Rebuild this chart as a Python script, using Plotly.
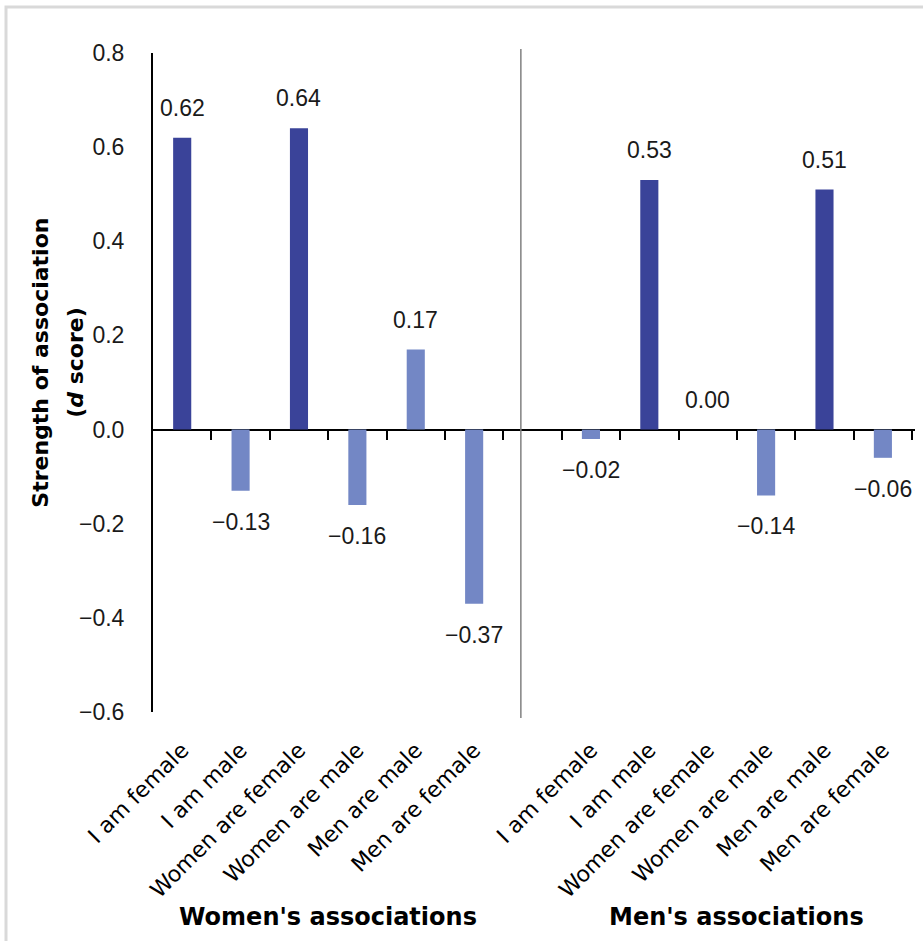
import plotly.graph_objects as go

# ---- data ----
categories = ["I am female", "I am male", "Women are female",
              "Women are male", "Men are male", "Men are female"]
women_values = [0.62, -0.13, 0.64, -0.16, 0.17, -0.37]
men_values = [-0.02, 0.53, 0.00, -0.14, 0.51, -0.06]
women_congruent = ["I am female", "Women are female"]
men_congruent = ["I am male", "Men are male"]
group_titles = ["Women's associations", "Men's associations"]
y_ticks = [-0.6, -0.4, -0.2, 0.0, 0.2, 0.4, 0.6, 0.8]

DARK = "#3a4399"
LIGHT = "#7387c5"
NUM_FONT = "Liberation Sans"
TXT_FONT = "DejaVu Sans"

n = len(categories)
women_x = list(range(n))
men_x = [n + 1 + i for i in range(n)]
all_x = women_x + men_x
all_vals = women_values + men_values
all_cols = [DARK if c in women_congruent else LIGHT for c in categories] + \
           [DARK if c in men_congruent else LIGHT for c in categories]

fig = go.Figure()
fig.add_trace(go.Bar(x=all_x, y=all_vals, marker=dict(color=all_cols, line=dict(width=0)),
                     width=0.31, hoverinfo="skip", showlegend=False))
# helper invisible trace on the zero-positioned tick axis
fig.add_trace(go.Scatter(x=[all_x[0]], y=[0], xaxis="x2", mode="markers",
                         marker=dict(opacity=0), hoverinfo="skip", showlegend=False))

# data labels
for x, v in zip(all_x, all_vals):
    fig.add_annotation(x=x, y=v, text=f"{v:.2f}".replace("-", "\u2212"), showarrow=False,
                       yanchor="bottom" if v >= 0 else "top",
                       yshift=15 if v >= 0 else -16,
                       font=dict(family=NUM_FONT, size=23, color="#1a1a1a"))

# group titles
for title, xs in zip(group_titles, [women_x, men_x]):
    fig.add_annotation(x=(xs[0] + xs[-1]) / 2, y=-0.311, xref="x", yref="paper",
                       text=f"<b>{title}</b>", showarrow=False, yanchor="middle",
                       font=dict(family=TXT_FONT, size=24, color="#000000"))

# y axis title (two lines)
fig.add_annotation(x=-0.147, y=0.53, xref="paper", yref="paper", textangle=-90,
                   text="<b>Strength of association</b>", showarrow=False,
                   xanchor="center", yanchor="middle",
                   font=dict(family=TXT_FONT, size=22, color="#000000"))
fig.add_annotation(x=-0.101, y=0.53, xref="paper", yref="paper", textangle=-90,
                   text="<b>(<i>d</i> score)</b>", showarrow=False,
                   xanchor="center", yanchor="middle",
                   font=dict(family=TXT_FONT, size=22, color="#000000"))

x_range = [-0.5, 2 * n + 0.55]
fig.update_layout(
    width=923, height=941,
    margin=dict(l=153, r=8, t=53, b=229),
    paper_bgcolor="white", plot_bgcolor="white",
    xaxis=dict(range=x_range, tickvals=all_x, ticktext=categories + categories,
               tickangle=-45, showline=False, showgrid=False, zeroline=False,
               ticks="", ticklabelstandoff=20,
               tickfont=dict(family=TXT_FONT, size=22, color="#000000")),
    xaxis2=dict(range=x_range, overlaying="x", anchor="free", position=0.6 / 1.4,
                side="bottom", tickvals=[i + 0.5 for i in range(2 * n + 1)],
                showticklabels=False, ticks="outside", ticklen=9, tickwidth=2,
                tickcolor="#000000", showline=False, showgrid=False, zeroline=False),
    yaxis=dict(range=[-0.6, 0.8], tickvals=y_ticks, tickformat=".1f",
               showline=True, linecolor="#000000", linewidth=2, showgrid=False,
               zeroline=True, zerolinecolor="#000000", zerolinewidth=2,
               ticks="", ticklabelstandoff=22,
               tickfont=dict(family=NUM_FONT, size=23, color="#1a1a1a")),
    shapes=[
        dict(type="line", xref="x", yref="paper", x0=5.8, x1=5.8, y0=-0.009, y1=1.006,
             line=dict(color="#808080", width=1.5)),
        dict(type="rect", xref="paper", yref="paper", x0=-0.1929, x1=1.03,
             y0=-0.37, y1=1.0698, line=dict(color="#d9d9d9", width=3),
             fillcolor="rgba(0,0,0,0)", layer="below"),
    ],
)

fig.write_html("out.html")
